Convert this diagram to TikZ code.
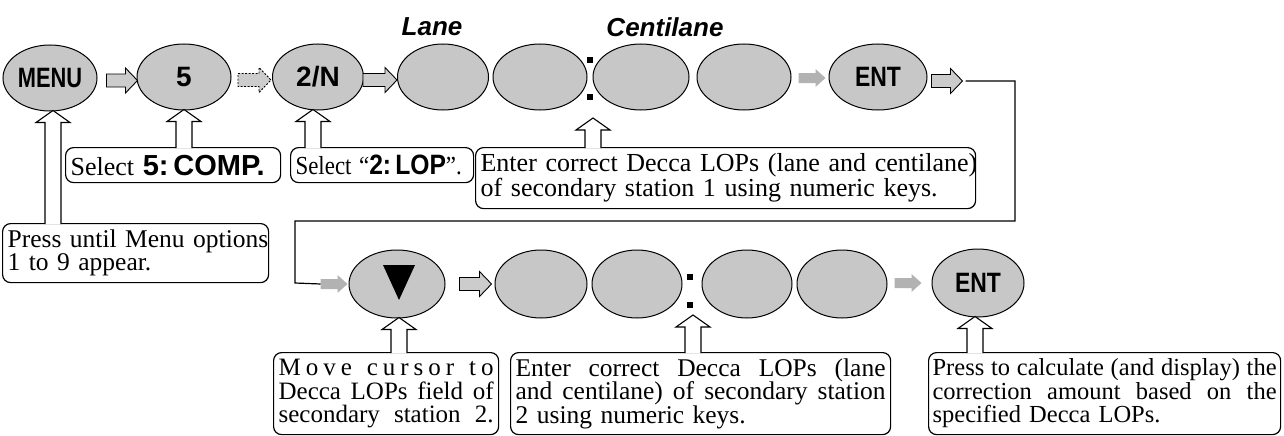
\documentclass[tikz,border=0pt]{standalone}
\usepackage{fontspec}
\usepackage{graphicx}
\setmainfont{Liberation Serif}
\setsansfont{Liberation Sans}
\usetikzlibrary{calc,shapes.geometric}

% block arrow: #1 style, #2 tip coordinate, #3 length, #4 shaft half, #5 head half, #6 head length
\newcommand\blkarrow[6]{%
  \path[#1] (#2) ++({-#3},{-#4}) -- ++({#3-#6},0) -- ++(0,{-(#5-#4)}) -- ++({#6},{#5})
    -- ++({-#6},{#5}) -- ++(0,{-(#5-#4)}) -- ++({-(#3-#6)},0) -- cycle;}
% hollow up arrow: #1 tip coordinate, #2 coordinate giving the base height
\newcommand\uparr[2]{%
  \draw[hollow] let \p1=(#1), \p2=(#2) in
    (\x1-8,\y2-1.2) -- (\x1-8,\y1-12) -- (\x1-17,\y1-12) -- (\x1,\y1)
    -- (\x1+17,\y1-12) -- (\x1+8,\y1-12) -- (\x1+8,\y2-1.2);}
% full-width justified line
\newcommand\jline[1]{\leavevmode\hbox to \hsize{#1}}

\tikzset{
  key/.style={ellipse, draw, fill=black!22, line width=1, inner sep=0,
    minimum width=94, minimum height=66,
    font=\fontsize{28}{28}\selectfont\sffamily\bfseries},
  keyb/.style={key, minimum width=92, minimum height=68},
  callout/.style={draw, rounded corners=8, line width=1.2, inner xsep=5, inner ysep=2,
    anchor=north west, align=left, font=\fontsize{26}{21.5}\selectfont},
  hollow/.style={fill=white, line width=1.1, line join=miter},
  bigarr/.style={fill=black!20, draw, line width=0.9},
  dasharr/.style={fill=black!20, draw, line width=0.9, dash pattern=on 2pt off 1.5pt},
  smallarr/.style={fill=black!30},
  coldot/.style={rectangle, fill=black, minimum size=5.5, inner sep=0},
  lbl/.style={font=\fontsize{26}{26}\selectfont\sffamily\bfseries\itshape},
  conn/.style={line width=1.2}
}

\begin{document}
\begin{tikzpicture}[x=1pt,y=-1pt]
\useasboundingbox (0,0) rectangle (1284,436);

% ---------- row 1 keys ----------
\node[key] (menu) at (50,78) {\scalebox{0.78}[1]{MENU}};
\node[key] (five) at (184,77) {5};
\node[key, minimum width=91] (twon) at (318,77) {2/N};
\node[key, minimum width=91] (l1) at (443,77) {};
\node[key] (l2) at (540,77) {};
\node[key, minimum width=96] (c1) at (641,77) {};
\node[key] (c2) at (744,77) {};
\node[key, minimum width=98] (ent) at (878,77) {\scalebox{0.82}[1]{ENT}};

\node[coldot] (d1a) at (590,60) {};
\node[coldot] (d1b) at (590,97) {};

\node[lbl] (lane) at (432,27) {Lane};
\node[lbl] (centi) at (665,27) {Centilane};

% row 1 block arrows
\blkarrow{bigarr}{$(five.west)+(1,3.5)$}{31}{6.5}{12.5}{12}
\blkarrow{dasharr}{$(twon.west)+(-1,3)$}{33}{6.5}{12.5}{12}
\blkarrow{bigarr}{$(l1.west)+(0,3)$}{34}{6.5}{12.5}{12}
\blkarrow{smallarr}{$(ent.west)+(-3,1)$}{27}{5}{9}{10}
\blkarrow{bigarr}{$(ent.east)+(35,4)$}{31}{6.5}{12.5}{12}
\coordinate (a5tip) at ($(ent.east)+(38,4)$);

% ---------- row 2 keys ----------
\node[keyb, minimum width=96] (dn) at (397,284) {};
\fill[black] ($(dn.center)+(-14,-19)$) -- ++(32,0) -- ++(-16,35) -- cycle;
\node[keyb] (e1) at (541,284) {};
\node[keyb, minimum width=90] (e2) at (637,284) {};
\node[keyb, minimum width=90] (e3) at (747,284) {};
\node[keyb, minimum width=90] (e4) at (842,284) {};
\node[keyb] (ent2) at (978,283) {\scalebox{0.82}[1]{ENT}};

\node[coldot] (d2a) at (690,277) {};
\node[coldot] (d2b) at (690,305) {};

% row 2 block arrows
\blkarrow{smallarr}{$(dn.west)+(-1,0)$}{27}{5}{9}{10}
\coordinate (a6tail) at ($(dn.west)+(-28,0)$);
\blkarrow{bigarr}{$(e1.west)+(-3,0)$}{32}{6.5}{12.5}{12}
\blkarrow{smallarr}{$(ent2.west)+(-10,0)$}{27}{5}{9}{10}

% return connector
\coordinate (r1) at (1015,221);
\coordinate (r2) at (295,283);
\draw[conn] (a5tip) -| (r1) -| (r2) -- (a6tail);

% ---------- callouts ----------
\node[callout, minimum width=215, minimum height=35, text width=205] (b1) at (65,147)
  {\mbox{Select {\fontsize{29}{21.5}\selectfont\sffamily\bfseries 5:\,COMP.}}};
\node[callout, minimum width=183, minimum height=35, text width=173, inner xsep=4] (b2) at (290,147)
  {\scalebox{0.88}[1]{Select “{\fontsize{28}{21.5}\selectfont\sffamily\bfseries 2:\,LOP}”.}};
\node[callout, minimum width=500, minimum height=61, text width=490] (b3) at (475,147)
  {\mbox{Enter correct Decca LOPs (lane and centilane)}\\\mbox{of secondary station 1 using numeric keys.}};
\node[callout, minimum width=266, minimum height=59, text width=256, font=\fontsize{25.5}{21.5}\selectfont] (b4) at (2,223)
  {\mbox{Press until Menu options}\\\mbox{1 to 9 appear.}};
\node[callout, minimum width=225, minimum height=82, text width=215, font=\fontsize{25}{23.5}\selectfont] (b5) at (273,352)
  {\jline{M\hfil o\hfil v\hfil e\hfil\hfil\hfil c\hfil u\hfil r\hfil s\hfil o\hfil r\hfil\hfil\hfil t\hfil o}\\
   \jline{Decca\hfil LOPs\hfil field\hfil of}\\
   \jline{secondary\hfil station\hfil 2.}};
\node[callout, minimum width=380, minimum height=82, text width=370, font=\fontsize{25.5}{23.5}\selectfont] (b6) at (510,352)
  {\jline{Enter\hfil correct\hfil Decca\hfil LOPs\hfil (lane}\\
   \jline{and\hfil centilane)\hfil of\hfil secondary\hfil station}\\
   \mbox{2 using numeric keys.}};
\node[callout, minimum width=352, minimum height=82, text width=344, inner xsep=4, font=\fontsize{24.5}{23.5}\selectfont] (b7) at (928,352)
  {\jline{Press\hfil to\hfil calculate\hfil (and\hfil display)\hfil the}\\
   \jline{correction\hfil amount\hfil based\hfil on\hfil the}\\
   \mbox{specified Decca LOPs.}};

% ---------- hollow up arrows ----------
\coordinate (u4tip) at ($(d1b)+(3,21)$);
\uparr{$(menu.south)+(3,-1)$}{b4.north}
\uparr{$(five.south)+(0,-1)$}{b1.north}
\uparr{$(twon.south)+(-5,-1)$}{b2.north}
\uparr{u4tip}{b3.north}
\uparr{$(dn.south)+(2,-1)$}{b5.north}
\uparr{$(d2b)+(3,10)$}{b6.north}
\uparr{$(ent2.south)+(-3,-1)$}{b7.north}
\end{tikzpicture}
\end{document}
